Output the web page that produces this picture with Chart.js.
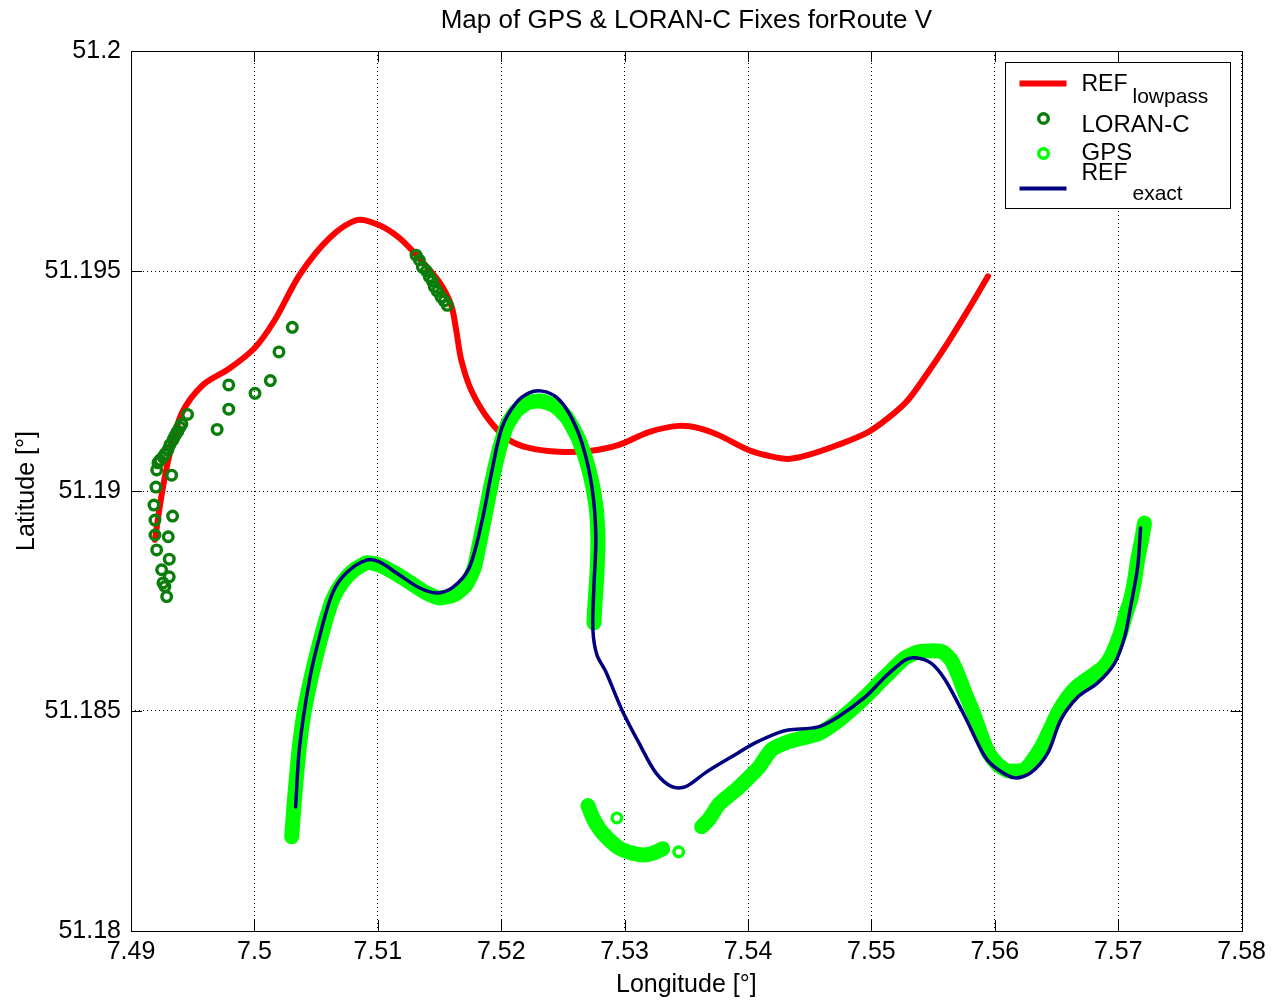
<!DOCTYPE html>
<html><head><meta charset="utf-8">
<script src="https://cdn.jsdelivr.net/npm/chart.js@4.4.1/dist/chart.umd.min.js"></script>
<style>html,body{margin:0;padding:0;background:#fff;}canvas{display:block;}</style>
</head><body>
<canvas id="c" width="1272" height="1004"></canvas>
<script>
const chartTitle = 'Map of GPS & LORAN-C Fixes forRoute V';
const xAxisTitle = 'Longitude [°]';
const yAxisTitle = 'Latitude [°]';
const xTicks = [7.49,7.50,7.51,7.52,7.53,7.54,7.55,7.56,7.57,7.58];
const xTickLabels = ['7.49','7.5','7.51','7.52','7.53','7.54','7.55','7.56','7.57','7.58'];
const yTicks = [51.18,51.185,51.19,51.195,51.2];
const yTickLabels = ['51.18','51.185','51.19','51.195','51.2'];
const legendNames = ['REF','LORAN-C','GPS','REF'];
const legendSubs = ['lowpass','','','exact'];

const refLowpassLon = [7.49194,7.49251,7.49315,7.49412,7.49582,7.49800,7.50002,7.50164,7.50366,7.50609,7.50835,7.51013,7.51175,7.51336,7.51498,7.51595,7.51635,7.51676,7.51757,7.51902,7.52064,7.52226,7.52468,7.52711,7.52953,7.53196,7.53438,7.53600,7.53762,7.54004,7.54166,7.54327,7.54489,7.54731,7.54974,7.55136,7.55297,7.55459,7.55621,7.55782,7.55944];
const refLowpassLat = [51.18889,51.18996,51.19086,51.19177,51.19241,51.19279,51.19325,51.19388,51.19491,51.19575,51.19616,51.19604,51.19575,51.19529,51.19475,51.19422,51.19366,51.19298,51.19229,51.19161,51.19116,51.19098,51.19089,51.19091,51.19105,51.19134,51.19148,51.19143,51.19127,51.19093,51.19080,51.19073,51.19082,51.19105,51.19134,51.19166,51.19207,51.19270,51.19338,51.19411,51.19488];

const loranLon = [7.50307,7.50199,7.50129,7.50005,7.49792,7.49792,7.49698,7.49458,7.49412,7.49396,7.49380,7.49369,7.49356,7.49340,7.49315,7.49299,7.49275,7.49259,7.49234,7.49218,7.49208,7.49329,7.49202,7.49186,7.49337,7.49194,7.49194,7.49302,7.49208,7.49310,7.49248,7.49310,7.49259,7.49275,7.49289,7.51310,7.51336,7.51361,7.51393,7.51417,7.51441,7.51458,7.51482,7.51512,7.51538,7.51563];
const loranLat = [51.19372,51.19316,51.19251,51.19222,51.19241,51.19186,51.19140,51.19174,51.19152,51.19145,51.19136,51.19132,51.19125,51.19116,51.19105,51.19093,51.19084,51.19077,51.19070,51.19064,51.19048,51.19036,51.19009,51.18968,51.18943,51.18934,51.18900,51.18896,51.18866,51.18845,51.18821,51.18805,51.18791,51.18783,51.18760,51.19536,51.19525,51.19509,51.19500,51.19487,51.19477,51.19464,51.19454,51.19441,51.19432,51.19422];

// null separates GPS track pieces
const gpsLon = [7.50302,7.50318,7.50342,7.50366,7.50399,7.50447,7.50504,7.50568,7.50633,7.50714,7.50811,7.50916,7.51013,7.51134,7.51255,7.51377,7.51498,7.51619,7.51716,7.51781,7.51821,7.51862,7.51918,7.51983,7.52048,7.52129,7.52226,7.52331,7.52436,7.52533,7.52630,7.52711,7.52767,7.52783,7.52775,7.52759,7.52751,
  null,
  7.52703,7.52743,7.52800,7.52872,7.52953,7.53050,7.53155,7.53244,7.53309,
  null, 7.52937, null, 7.53438, null,
  7.53624,7.53681,7.53761,7.53842,7.53923,7.54004,7.54085,7.54190,7.54327,7.54449,7.54570,7.54732,7.54853,7.54950,7.55112,7.55273,7.55378,7.55500,7.55580,7.55645,7.55702,7.55758,7.55823,7.55888,7.55944,7.56025,7.56106,7.56243,7.56373,7.56445,7.56510,7.56591,7.56672,7.56777,7.56874,7.56939,7.57019,7.57060,7.57100,7.57133,7.57157,7.57189,7.57213];
const gpsLat = [51.18214,51.18276,51.18355,51.18423,51.18491,51.18560,51.18628,51.18696,51.18753,51.18793,51.18821,51.18837,51.18832,51.18814,51.18793,51.18771,51.18757,51.18764,51.18787,51.18825,51.18877,51.18934,51.19014,51.19093,51.19150,51.19184,51.19202,51.19204,51.19193,51.19166,51.19116,51.19048,51.18968,51.18889,51.18809,51.18741,51.18700,
  null,
  51.18285,51.18257,51.18230,51.18208,51.18189,51.18178,51.18173,51.18178,51.18187,
  null, 51.18257, null, 51.18180, null,
  51.18237,51.18253,51.18287,51.18307,51.18326,51.18348,51.18371,51.18412,51.18430,51.18439,51.18448,51.18478,51.18507,51.18532,51.18578,51.18621,51.18634,51.18637,51.18634,51.18616,51.18582,51.18541,51.18498,51.18446,51.18407,51.18378,51.18364,51.18367,51.18416,51.18457,51.18496,51.18532,51.18557,51.18578,51.18598,51.18623,51.18678,51.18719,51.18753,51.18798,51.18843,51.18889,51.18927];

const refExactLon = [7.50334,7.50366,7.50447,7.50528,7.50633,7.50746,7.50908,7.51013,7.51175,7.51336,7.51474,7.51603,7.51740,7.51846,7.51926,7.52007,7.52120,7.52226,7.52331,7.52444,7.52549,7.52654,7.52735,7.52767,7.52751,7.52743,7.52775,7.52848,7.52977,7.53115,7.53252,7.53382,7.53495,7.53656,7.53867,7.54061,7.54247,7.54327,7.54570,7.54732,7.54950,7.55112,7.55273,7.55354,7.55483,7.55597,7.55758,7.55920,7.56025,7.56162,7.56292,7.56429,7.56534,7.56672,7.56833,7.56971,7.57052,7.57100,7.57157,7.57181];
const refExactLat = [51.18282,51.18419,51.18571,51.18669,51.18768,51.18814,51.18843,51.18839,51.18809,51.18780,51.18768,51.18780,51.18825,51.18934,51.19048,51.19145,51.19200,51.19223,51.19227,51.19214,51.19177,51.19109,51.19009,51.18896,51.18782,51.18684,51.18628,51.18589,51.18503,51.18428,51.18360,51.18328,51.18328,51.18360,51.18396,51.18428,51.18451,51.18457,51.18464,51.18487,51.18532,51.18578,51.18616,51.18621,51.18609,51.18571,51.18487,51.18396,51.18367,51.18348,51.18360,51.18405,51.18480,51.18532,51.18564,51.18609,51.18669,51.18737,51.18827,51.18916];

const pts = (xs, ys) => xs.map((x, i) => ({x: x, y: ys[i]}));
const FONT = "'Liberation Sans', Arial, Helvetica, sans-serif";
Chart.defaults.font.family = FONT;
Chart.defaults.color = '#000';

const framePlugin = {
  id: 'frame',
  beforeDatasetsDraw(chart) {
    const {ctx, chartArea: a, scales: {x, y}} = chart;
    ctx.save();
    ctx.strokeStyle = '#000'; ctx.lineWidth = 1;
    ctx.beginPath();
    xTicks.forEach(v => {
      const p = Math.round(x.getPixelForValue(v)) + 0.5;
      ctx.moveTo(p, a.bottom); ctx.lineTo(p, a.bottom - 11);
      ctx.moveTo(p, a.top); ctx.lineTo(p, a.top + 11);
    });
    yTicks.forEach(v => {
      const p = Math.round(y.getPixelForValue(v)) + 0.5;
      ctx.moveTo(a.left, p); ctx.lineTo(a.left + 11, p);
      ctx.moveTo(a.right, p); ctx.lineTo(a.right - 11, p);
    });
    ctx.stroke();
    ctx.strokeRect(Math.round(a.left) + 0.5, Math.round(a.top) + 0.5, Math.round(a.right - a.left), Math.round(a.bottom - a.top));
    ctx.restore();
  }
};

const legendPlugin = {
  id: 'mlegend',
  afterDatasetsDraw(chart) {
    const {ctx, chartArea: a} = chart;
    const bx = Math.round(a.right) - 237 + 0.5, by = Math.round(a.top) + 11 + 0.5, bw = 225, bh = 146;
    ctx.save();
    ctx.fillStyle = '#fff'; ctx.fillRect(bx, by, bw, bh);
    ctx.strokeStyle = '#000'; ctx.lineWidth = 1; ctx.strokeRect(bx, by, bw, bh);
    const markY = [21, 56, 91, 126];
    const textY = [28, 69, 97, 117];
    const subY = [40, 0, 0, 137];
    const mainSize = [23, 24, 24, 23];
    chart.data.datasets.forEach((ds, i) => {
      if (i > 3) return;
      const my = by + markY[i];
      if (ds.showLine) {
        ctx.strokeStyle = ds.borderColor;
        ctx.lineWidth = ds.legendLineWidth;
        ctx.beginPath(); ctx.moveTo(bx + 14, my); ctx.lineTo(bx + 61, my); ctx.stroke();
      } else {
        ctx.strokeStyle = ds.pointBorderColor;
        ctx.lineWidth = ds.pointBorderWidth;
        ctx.beginPath(); ctx.arc(bx + 38, my, ds.pointRadius, 0, Math.PI * 2); ctx.stroke();
      }
      ctx.fillStyle = '#000';
      ctx.textBaseline = 'alphabetic';
      ctx.textAlign = 'left';
      ctx.font = mainSize[i] + 'px ' + FONT;
      ctx.fillText(legendNames[i], bx + 76, by + textY[i]);
      if (legendSubs[i]) {
        const w = ctx.measureText(legendNames[i]).width;
        ctx.font = '21px ' + FONT;
        ctx.fillText(legendSubs[i], bx + 81 + w, by + subY[i]);
      }
    });
    ctx.restore();
  }
};

new Chart(document.getElementById('c'), {
  type: 'scatter',
  data: {
    datasets: [
      {
        label: 'REF lowpass', data: pts(refLowpassLon, refLowpassLat), showLine: true,
        borderColor: '#ff0000', borderWidth: 6, legendLineWidth: 6, pointRadius: 0, tension: 0.3,
        borderCapStyle: 'round', borderJoinStyle: 'round', order: 4
      },
      {
        label: 'LORAN-C', data: pts(loranLon, loranLat), showLine: false,
        pointRadius: 4.8, pointBorderWidth: 3.4, pointBorderColor: '#0a7d0a',
        pointBackgroundColor: 'rgba(0,0,0,0)', borderColor: '#0a7d0a', order: 3
      },
      {
        label: 'GPS', data: pts(gpsLon, gpsLat), showLine: false, spanGaps: false,
        pointRadius: 4.8, pointBorderWidth: 3.4, pointBorderColor: '#00ff00',
        pointBackgroundColor: 'rgba(0,0,0,0)', borderColor: '#00ff00', order: 2
      },
      {
        label: 'REF exact', data: pts(refExactLon, refExactLat), showLine: true,
        borderColor: '#000080', borderWidth: 3.5, legendLineWidth: 4, pointRadius: 0, tension: 0.3,
        borderCapStyle: 'round', borderJoinStyle: 'round', order: 1
      },
      {
        label: 'GPS track', data: pts(gpsLon, gpsLat), showLine: true, spanGaps: false,
        borderColor: '#00ff00', borderWidth: 15, pointRadius: 0, tension: 0.2,
        borderCapStyle: 'round', borderJoinStyle: 'round', order: 2.5
      }
    ]
  },
  options: {
    responsive: false,
    animation: false,
    devicePixelRatio: 1,
    events: [],
    layout: {padding: {left: 0, right: 28, top: 0, bottom: 0}},
    plugins: {
      legend: {display: false},
      tooltip: {enabled: false},
      title: {
        display: true, text: chartTitle, fullSize: false,
        font: {size: 26, weight: 'normal'}, color: '#000',
        padding: {top: 5, bottom: 14.8}
      }
    },
    scales: {
      x: {
        type: 'linear', min: 7.49, max: 7.58,
        afterBuildTicks: s => { s.ticks = xTicks.map(v => ({value: v})); },
        afterFit: s => { s.height = 73; },
        ticks: {callback: (v, i) => xTickLabels[i], font: {size: 25}, padding: 6, maxRotation: 0, autoSkip: false},
        grid: {color: '#000', lineWidth: 1, drawTicks: false, borderDash: [1, 3]},
        border: {display: false, dash: [1, 3]},
        title: {display: true, text: xAxisTitle, font: {size: 25}, padding: {top: 0, bottom: 4}}
      },
      y: {
        type: 'linear', min: 51.18, max: 51.2,
        afterBuildTicks: s => { s.ticks = yTicks.map(v => ({value: v})); },
        afterFit: s => { s.width = 131; },
        ticks: {callback: (v, i) => yTickLabels[i], font: {size: 25}, padding: 10, autoSkip: false},
        grid: {color: '#000', lineWidth: 1, drawTicks: false, borderDash: [1, 3]},
        border: {display: false, dash: [1, 3]},
        title: {display: true, text: yAxisTitle, font: {size: 25}, padding: {top: 12, bottom: 0}}
      }
    }
  },
  plugins: [framePlugin, legendPlugin]
});
</script>
</body></html>
